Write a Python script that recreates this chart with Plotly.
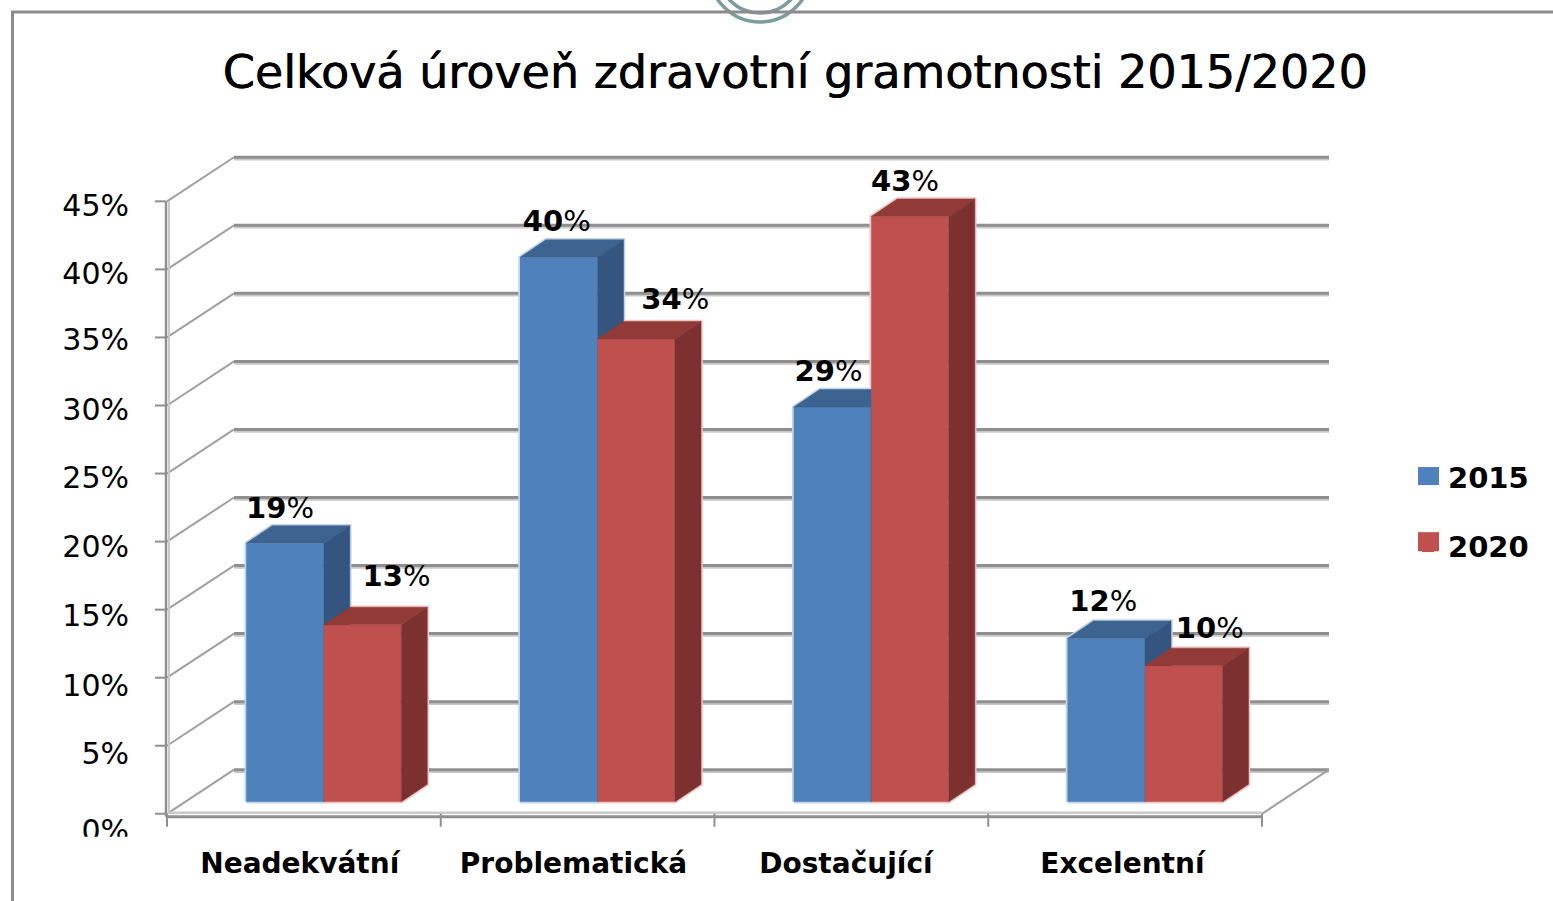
import plotly.graph_objects as go

# ---------- data ----------
categories = ["Neadekvátní", "Problematická", "Dostačující", "Excelentní"]
series_names = ["2015", "2020"]
values_2015 = [19, 40, 29, 12]
values_2020 = [13, 34, 43, 10]
tick_values = [0, 5, 10, 15, 20, 25, 30, 35, 40, 45]
title_text = "Celková úroveň zdravotní gramotnosti 2015/2020"

# ---------- page geometry (pixels) ----------
W, H = 1553, 901
LAYOUT_H = H + 8             # the plot area comes out 8 px shorter than the layout
X0_PX, Y0_PX = 167, 812      # where category 0 / value 0 fall on the page
PX_PER_CAT, PX_PER_PCT = 273.75, 13.58
PLOT_LEFT, PLOT_BOTTOM = 130, 840


def dx(px):
    return px / PX_PER_CAT


def dy(px):
    return px / PX_PER_PCT


xrange_ = [dx(PLOT_LEFT - X0_PX), dx(W - X0_PX)]
yrange_ = [dy(Y0_PX - PLOT_BOTTOM), dy(Y0_PX)]

WALL_DX, WALL_DY = dx(67), dy(44)
BASE = dy(12)
BAR_W = dx(77.5)
BLUE_C, RED_C = dx(118), dx(195.5)
DEPTH_X, DEPTH_Y = dx(26), dy(17.5)
N = len(categories)

BLUE, BLUE_TOP, BLUE_SIDE, BLUE_HALO = "#4f81bd", "#3d6391", "#34557f", "#c3d3e8"
RED, RED_TOP, RED_SIDE, RED_HALO = "#c0504d", "#923a38", "#7c3130", "#ecc8c7"
GRID_DARK, GRID_LIGHT = "#8f8f8f", "#c9c9c9"
FONT = "DejaVu Sans"

# label nudges in pixels, and y tick label nudges (downwards)
blue_lab_dx, blue_lab_dy = [-5, -2, -4, -3], [32, 34, 33, 35]
red_lab_dx, red_lab_dy = [34, 39, -5, 26], [46, 37, 33, 35]
tick_nudge = [16.5, 8, 8, 6, 5, 4, 4, 2, 4, 4]

fig = go.Figure()


def segs(pairs):
    xs, ys = [], []
    for path in pairs:
        for a, b in path:
            xs.append(a)
            ys.append(b)
        xs.append(None)
        ys.append(None)
    return xs, ys


def line(paths, color, width, xa="x", ya="y"):
    xs, ys = segs(paths)
    fig.add_trace(go.Scatter(x=xs, y=ys, mode="lines", xaxis=xa, yaxis=ya,
                             line=dict(color=color, width=width),
                             hoverinfo="skip", showlegend=False))


def poly(pts, color, xa, ya):
    xs = [p[0] for p in pts] + [pts[0][0]]
    ys = [p[1] for p in pts] + [pts[0][1]]
    fig.add_trace(go.Scatter(x=xs, y=ys, mode="lines", fill="toself",
                             fillcolor=color, xaxis=xa, yaxis=ya,
                             line=dict(color=color, width=0.5),
                             hoverinfo="skip", showlegend=False))


def outline(x, v):
    l, r, t = x - BAR_W / 2, x + BAR_W / 2, BASE + v
    return [(l, BASE), (l, t), (l + DEPTH_X, t + DEPTH_Y), (r + DEPTH_X, t + DEPTH_Y),
            (r + DEPTH_X, BASE + DEPTH_Y), (r, BASE), (l, BASE)]


# ---------- walls, floor, axis furniture ----------
back_light = [[(WALL_DX, v + WALL_DY - dy(2)), (N + WALL_DX, v + WALL_DY - dy(2))] for v in tick_values]
back_dark = [[(WALL_DX, v + WALL_DY), (N + WALL_DX, v + WALL_DY)] for v in tick_values]
diagonals = [[(0, v), (WALL_DX, v + WALL_DY)] for v in tick_values]
diagonals.append([(N, 0), (N + WALL_DX, WALL_DY)])
line(back_light, GRID_LIGHT, 2.5)
line(back_dark, GRID_DARK, 3)
line(diagonals, "#a0a0a0", 2)
top_v = max(tick_values)
line([[(dx(2), 0), (dx(2), top_v)]], GRID_LIGHT, 2)
line([[(dx(-1), dy(-3)), (dx(-1), top_v)]], GRID_DARK, 2.5)
line([[(0, dy(1)), (N, dy(1))]], GRID_LIGHT, 2.5)
line([[(0, dy(-3)), (N, dy(-3))]], GRID_DARK, 3)
line([[(dx(-12), v), (dx(-1), v)] for v in tick_values], GRID_DARK, 2)
line([[(i, 0), (i, dy(-13))] for i in range(N + 1)], GRID_DARK, 2)

blue_x = [i + BLUE_C for i in range(N)]
red_x = [i + RED_C for i in range(N)]

# pale rim round each bar
line([outline(x, v) for x, v in zip(blue_x, values_2015)], BLUE_HALO, 3.5)
line([outline(x, v) for x, v in zip(red_x, values_2020)], RED_HALO, 3.5)

# ---------- blue bars ----------
fig.add_trace(go.Bar(x=blue_x, y=values_2015, base=BASE, width=BAR_W, name=series_names[0],
                     xaxis="x2", yaxis="y2", legendgroup="a", marker=dict(color=BLUE, line=dict(width=0))))
for x, v in zip(blue_x, values_2015):
    l, r, t = x - BAR_W / 2, x + BAR_W / 2, BASE + v
    poly([(l, t), (r, t), (r + DEPTH_X, t + DEPTH_Y), (l + DEPTH_X, t + DEPTH_Y)], BLUE_TOP, "x2", "y2")
    poly([(r, BASE), (r, t), (r + DEPTH_X, t + DEPTH_Y), (r + DEPTH_X, BASE + DEPTH_Y)], BLUE_SIDE, "x2", "y2")

# ---------- red bars ----------
fig.add_trace(go.Bar(x=red_x, y=values_2020, base=BASE, width=BAR_W, name=series_names[1],
                     xaxis="x3", yaxis="y3", legendgroup="b", marker=dict(color=RED, line=dict(width=0))))
for x, v in zip(red_x, values_2020):
    l, r, t = x - BAR_W / 2, x + BAR_W / 2, BASE + v
    poly([(l, t), (r, t), (r + DEPTH_X, t + DEPTH_Y), (l + DEPTH_X, t + DEPTH_Y)], RED_TOP, "x3", "y3")
    poly([(r, BASE), (r, t), (r + DEPTH_X, t + DEPTH_Y), (r + DEPTH_X, BASE + DEPTH_Y)], RED_SIDE, "x3", "y3")

# ---------- data labels ----------
lab_x = [x + dx(n) for x, n in zip(blue_x, blue_lab_dx)] + [x + dx(n) for x, n in zip(red_x, red_lab_dx)]
lab_y = [BASE + v + dy(n) for v, n in zip(values_2015, blue_lab_dy)] + \
        [BASE + v + dy(n) for v, n in zip(values_2020, red_lab_dy)]
lab_t = [f"<b>{v}</b>%" for v in values_2015 + values_2020]
fig.add_trace(go.Scatter(x=lab_x, y=lab_y, text=lab_t, mode="text", xaxis="x3", yaxis="y3",
                         textposition="middle center", hoverinfo="skip", showlegend=False,
                         textfont=dict(family=FONT, size=29, color="#000000")))


def px_x(p):
    return p / W


def px_y(p):
    return 1 - p / H


frame = "#8c8c8c"
ring = "#7c9d9c"
shapes = [
    dict(type="circle", xref="paper", yref="paper", x0=px_x(760 - 51), x1=px_x(760 + 51),
         y0=px_y(-29 + 51), y1=px_y(-29 - 51), line=dict(color=ring, width=3.5), layer="below"),
    dict(type="circle", xref="paper", yref="paper", x0=px_x(760 - 42), x1=px_x(760 + 42),
         y0=px_y(-29 + 42), y1=px_y(-29 - 42), line=dict(color=ring, width=3.5), layer="below"),
    dict(type="line", xref="paper", yref="paper", x0=px_x(12.5), x1=px_x(12.5), y0=px_y(11), y1=px_y(H),
         line=dict(color=frame, width=3), layer="below"),
    dict(type="line", xref="paper", yref="paper", x0=px_x(11), x1=1, y0=px_y(12), y1=px_y(12),
         line=dict(color=frame, width=3), layer="below"),
    # clipped bottom of the 0% label
    dict(type="rect", xref="paper", yref="paper", x0=px_x(40), x1=px_x(150), y0=px_y(835), y1=px_y(846),
         line=dict(width=0), fillcolor="#ffffff", layer="above"),
    # legend swatches
    dict(type="rect", xref="paper", yref="paper", x0=px_x(1418), x1=px_x(1439), y0=px_y(466), y1=px_y(484),
         line=dict(width=0), fillcolor=BLUE, layer="above"),
    dict(type="rect", xref="paper", yref="paper", x0=px_x(1418), x1=px_x(1439), y0=px_y(531), y1=px_y(550),
         line=dict(width=0), fillcolor=RED, layer="above"),
]

xdom = [PLOT_LEFT / W, 1]
ydom = [(H - PLOT_BOTTOM) / H, 1]
hidden_x = dict(domain=xdom, range=xrange_, visible=False, overlaying="x", fixedrange=True)
hidden_y = dict(domain=ydom, range=yrange_, visible=False, overlaying="y", fixedrange=True)

fig.update_layout(
    width=W, height=LAYOUT_H, autosize=False,
    margin=dict(l=0, r=0, t=0, b=0, pad=0),
    paper_bgcolor="#ffffff", plot_bgcolor="rgba(0,0,0,0)",
    barmode="overlay", shapes=shapes,
    title=dict(text=title_text, x=795 / W, xanchor="center", y=1 - 72 / LAYOUT_H, yanchor="middle",
               font=dict(family=FONT, size=46, color="#000000", shadow="0.7px 0 0 #000000")),
    legend=dict(x=1408 / W, xanchor="left", y=1 - 450 / H, yanchor="top", tracegroupgap=29,
                bgcolor="rgba(0,0,0,0)", borderwidth=0, itemwidth=30, traceorder="grouped",
                font=dict(family=FONT, size=29, color="#000000", weight=700)),
    xaxis=dict(domain=xdom, range=xrange_, showgrid=False, zeroline=False, showline=False, ticks="",
               tickvals=[0.485, 1.485, 2.48, 3.49], ticktext=categories, tickangle=0, ticklabelstandoff=2,
               tickfont=dict(family=FONT, size=28, color="#000000", weight=700), fixedrange=True),
    yaxis=dict(domain=ydom, range=yrange_, showgrid=False, zeroline=False, showline=False, ticks="",
               tickvals=[v - dy(n) for v, n in zip(tick_values, tick_nudge)],
               ticktext=[f"{v}%" for v in tick_values],
               tickfont=dict(family=FONT, size=30, color="#000000"), fixedrange=True),
    xaxis2=hidden_x, yaxis2=hidden_y, xaxis3=hidden_x, yaxis3=hidden_y,
)

fig.write_html("out.html", config={"displayModeBar": False, "responsive": False},
               default_width="1553px", default_height=f"{LAYOUT_H}px",
               post_script="document.body.style.margin='0';document.body.style.overflow='hidden';")
